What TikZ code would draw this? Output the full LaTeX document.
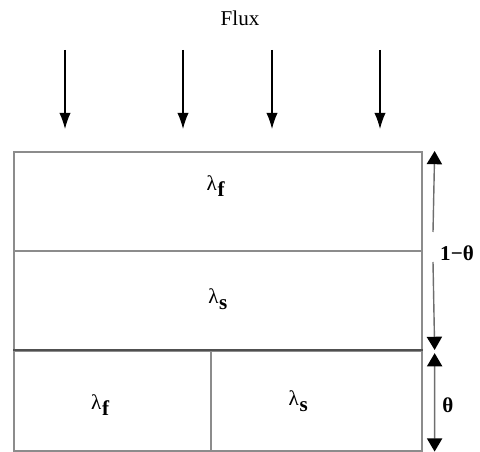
\documentclass[tikz,border=0pt]{standalone}
\usepackage{fontspec}
\setmainfont{Liberation Serif}
\usetikzlibrary{arrows.meta, positioning}
\definecolor{cline}{HTML}{8C8C8C}
\definecolor{cdim}{HTML}{6E6E6E}
\definecolor{cdark}{HTML}{505050}
\newcommand{\lsub}[1]{λ\kern0.5pt\raisebox{-0.6ex}{\textbf{#1}}}
\tikzset{
  every picture/.style={font=\fontsize{15}{17}\selectfont},
  layer/.style={draw=cline, line width=1.1pt, minimum width=#1, minimum height=2.5cm, inner sep=0pt, anchor=north west},
  layer/.default=10.2cm,
  flux/.style={-{Latex[width=0.28cm, length=0.4cm]}, line width=0.8pt, black},
  dim/.style={draw=cdim, line width=1pt, -{Triangle[width=0.38cm, length=0.33cm, black]}},
  lbl/.style={inner sep=1pt},
}
\begin{document}
\begin{tikzpicture}[x=0.025cm, y=-0.025cm]
  \useasboundingbox (0,0) rectangle (480,452);
  % flux arrows
  \node[lbl] (flux) at (240,18) {Flux};
  \foreach \x [count=\i] in {65,183,272,380} {
    \coordinate (a\i) at (\x,50);
    \coordinate (b\i) at (\x,129);
    \draw[flux] (a\i) -- (b\i);
  }
  % layers
  \node[layer, minimum height=2.475cm] (fl) at (13,151) {};
  \node[layer] (sl) at (13,250) {};
  \node[layer=4.925cm] (bl) at (13,350) {};
  \node[layer=5.275cm] (br) at (210,350) {};
  \draw[cdark, line width=1.5pt] (bl.north west) -- (br.north east);
  % labels
  \node[lbl] (lf1) at ([xshift=-0.05cm, yshift=0.38cm]fl.center) {\lsub{f}};
  \node[lbl] (ls1) at ([yshift=0.05cm]sl.center) {\lsub{s}};
  \node[lbl] (lf2) at ([xshift=-0.3cm, yshift=-0.1cm]bl.center) {\lsub{f}};
  \node[lbl] (ls2) at ([xshift=-0.45cm]br.center) {\lsub{s}};
  % dimensions
  \coordinate[right=0.3cm of fl.north east] (d1);
  \coordinate[right=0.3cm of sl.south east] (d2);
  \coordinate[right=0.3cm of br.south east] (d3);
  \coordinate (g1) at (433,232);
  \coordinate (g2) at (433,262);
  \node[lbl] (one) at (457,253) {\textbf{1−θ}};
  \draw[dim] (g1) -- (d1);
  \draw[dim] (g2) -- ([yshift=0.04cm]d2);
  \draw[dim, {Triangle[width=0.38cm, length=0.33cm, black]}-{Triangle[width=0.38cm, length=0.33cm, black]}] ([yshift=-0.04cm]d2) -- (d3);
  \node[lbl] (th) at (448,405) {\textbf{θ}};
\end{tikzpicture}
\end{document}
